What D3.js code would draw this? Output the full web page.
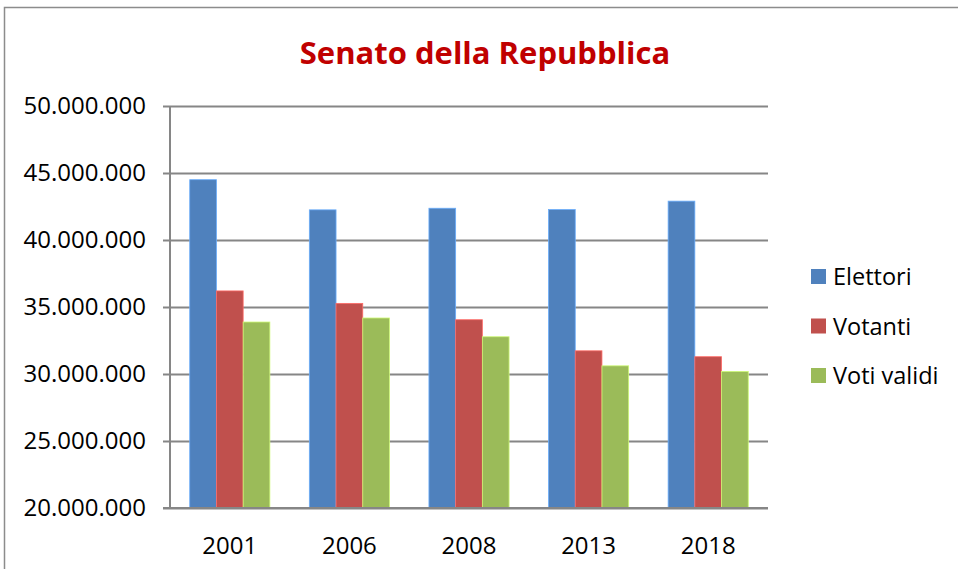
<!DOCTYPE html>
<html>
<head>
<meta charset="utf-8">
<script src="https://cdn.jsdelivr.net/npm/d3@7"></script>
<style>
  body { margin: 0; background: #fff; }
  svg { display: block; font-family: "Open Sans", sans-serif; }
</style>
</head>
<body>
<div id="chart"></div>
<script>
const years = ["2001", "2006", "2008", "2013", "2018"];
const seriesNames = ["Elettori", "Votanti", "Voti validi"];
const elettori = [44500000, 42250000, 42370000, 42270000, 42900000];
const votanti = [36200000, 35270000, 34050000, 31730000, 31290000];
const votiValidi = [33880000, 34180000, 32780000, 30610000, 30190000];
const yTicks = [20000000, 25000000, 30000000, 35000000, 40000000, 45000000, 50000000];
const colors = ["#4F81BD", "#C0504D", "#9BBB59"];

const width = 958, height = 569;
const plot = { left: 170, right: 768, top: 106, bottom: 508 };

const svg = d3.select("#chart").append("svg")
  .attr("width", width)
  .attr("height", height);

// chart border
svg.append("rect")
  .attr("x", 4.5).attr("y", 7.5)
  .attr("width", width + 20).attr("height", height + 20)
  .attr("fill", "none")
  .attr("stroke", "#8c8c8c")
  .attr("stroke-width", 1.5);

svg.append("text")
  .attr("x", 485).attr("y", 64)
  .attr("text-anchor", "middle")
  .attr("fill", "#C00000")
  .attr("font-weight", "bold")
  .attr("font-size", 31)
  .text("Senato della Repubblica");

const x0 = d3.scaleBand().domain(years).range([plot.left, plot.right]).paddingInner(0.33).paddingOuter(0.165);
const x1 = d3.scaleBand().domain(seriesNames).range([0, x0.bandwidth()]);
const y = d3.scaleLinear().domain([20000000, 50000000]).range([plot.bottom, plot.top]);

const fmt = v => d3.format(",")(v).replace(/,/g, ".");

// gridlines + y labels
const yAxis = svg.append("g")
  .attr("transform", `translate(${plot.left},0)`)
  .call(d3.axisLeft(y).tickValues(yTicks).tickFormat(fmt).tickSize(-(plot.right - plot.left)).tickPadding(24));
yAxis.select(".domain").remove();
yAxis.selectAll(".tick line")
  .attr("x1", -7)
  .attr("stroke", "#868686")
  .attr("stroke-width", 2);
yAxis.selectAll(".tick text")
  .attr("font-size", 24)
  .attr("font-family", "Open Sans, sans-serif")
  .attr("fill", "#000");

// left axis line
svg.append("line")
  .attr("x1", plot.left).attr("x2", plot.left)
  .attr("y1", plot.top).attr("y2", plot.bottom)
  .attr("stroke", "#868686").attr("stroke-width", 2);

const series = [elettori, votanti, votiValidi];
seriesNames.forEach((name, si) => {
  svg.append("g").selectAll("rect")
    .data(years.map((yr, i) => ({ yr, v: series[si][i] })))
    .join("rect")
    .attr("x", d => x0(d.yr) + x1(name))
    .attr("y", d => y(d.v))
    .attr("width", x1.bandwidth())
    .attr("height", d => y(20000000) - y(d.v))
    .attr("fill", colors[si])
    .attr("stroke", d3.color(colors[si]).brighter(0.8))
    .attr("stroke-width", 0.8);
});

// bottom axis line redrawn over bars
svg.append("line")
  .attr("x1", plot.left - 7).attr("x2", plot.right)
  .attr("y1", plot.bottom).attr("y2", plot.bottom)
  .attr("stroke", "#868686").attr("stroke-width", 2);

// x labels
svg.append("g").selectAll("text")
  .data(years)
  .join("text")
  .attr("x", d => x0(d) + x0.bandwidth() / 2)
  .attr("y", 554)
  .attr("text-anchor", "middle")
  .attr("font-size", 24)
  .attr("fill", "#000")
  .text(d => d);

// legend
const legend = svg.append("g").selectAll("g")
  .data(seriesNames)
  .join("g")
  .attr("transform", (d, i) => `translate(811,${276 + i * 49.5})`);
legend.append("rect")
  .attr("x", 0).attr("y", -7)
  .attr("width", 15).attr("height", 15)
  .attr("fill", (d, i) => colors[i]);
legend.append("text")
  .attr("x", 22).attr("y", 9)
  .attr("font-size", 23.5)
  .attr("fill", "#000")
  .text(d => d);
</script>
</body>
</html>
